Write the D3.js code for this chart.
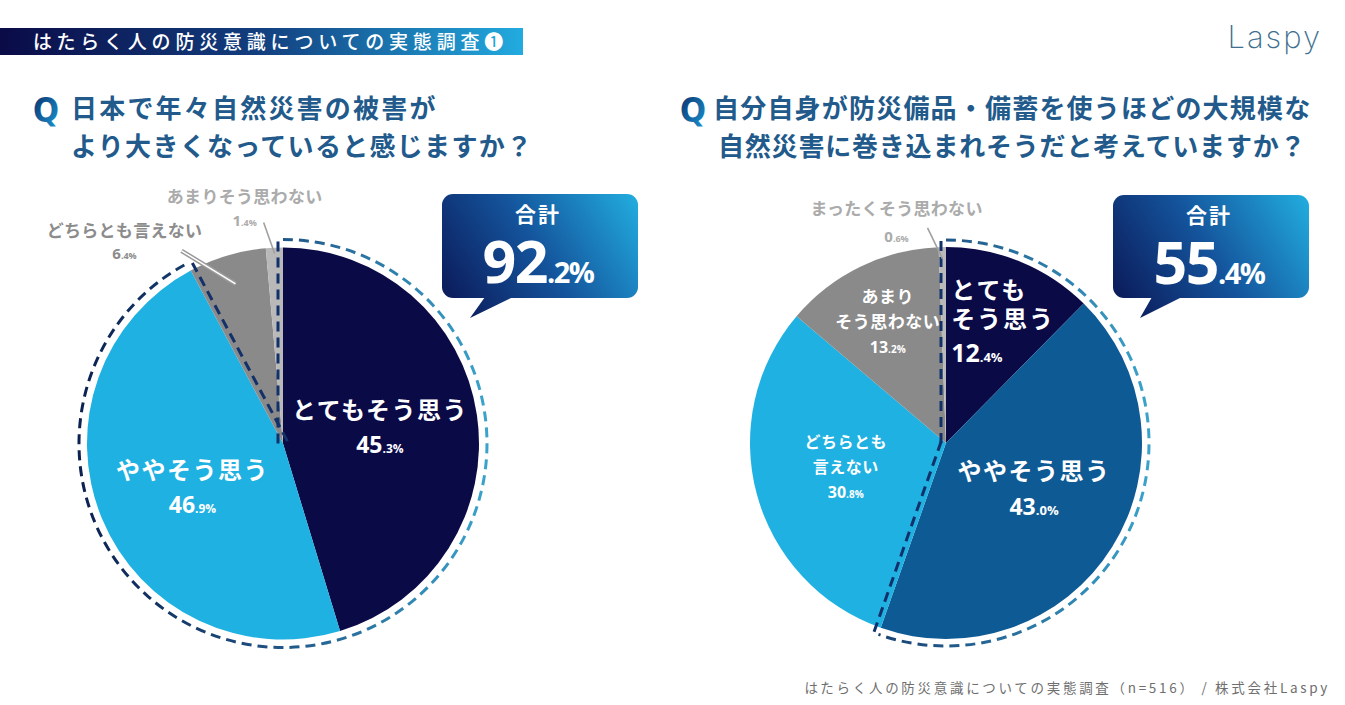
<!DOCTYPE html>
<html>
<head>
<meta charset="utf-8">
<script src="https://cdnjs.cloudflare.com/ajax/libs/d3/7.8.5/d3.min.js"></script>
<style>
  body { margin: 0; background: #fff; }
  text { font-family: "Noto Sans CJK JP", sans-serif; }
  .num { font-family: "Open Sans", "Noto Sans CJK JP", sans-serif; font-weight: 700; }
</style>
</head>
<body>
<script>
// ---- data ----
var headerText = "はたらく人の防災意識についての実態調査❶";
var footerText = "はたらく人の防災意識についての実態調査（n=516） / 株式会社Laspy";

var q1Title = ["日本で年々自然災害の被害が", "より大きくなっていると感じますか？"];
var q1Labels = ["とてもそう思う", "ややそう思う", "どちらとも言えない", "あまりそう思わない"];
var q1Values = [45.3, 46.9, 6.4, 1.4];

var q2Title = ["自分自身が防災備品・備蓄を使うほどの大規模な", "自然災害に巻き込まれそうだと考えていますか？"];
var q2Labels = ["とても\nそう思う", "ややそう思う", "どちらとも\n言えない", "あまり\nそう思わない", "まったくそう思わない"];
var q2Values = [12.4, 43.0, 30.8, 13.2, 0.6];

var totalLabel = "合計";

// ---- styles / layout ----
var q1Colors = ["#0a0a47", "#1fb1e1", "#8a8a8a", "#b9b9b9"];
var q2Colors = ["#0a0a47", "#0e5a95", "#1fb1e1", "#8a8a8a", "#b9b9b9"];

var width = 1345, height = 705;

var svg = d3.select("body").append("svg")
    .attr("width", width)
    .attr("height", height);

var defs = svg.append("defs");

function linGrad(id, x1, y1, x2, y2, stops, user) {
  var g = defs.append("linearGradient").attr("id", id)
    .attr("x1", x1).attr("y1", y1).attr("x2", x2).attr("y2", y2);
  if (user) g.attr("gradientUnits", "userSpaceOnUse");
  stops.forEach(function(s) {
    g.append("stop").attr("offset", s[0]).attr("stop-color", s[1]);
  });
}

// header banner
linGrad("bannerGrad", "0", "0", "1", "0", [[0, "#0a0b47"], [0.5, "#133f7f"], [1, "#22abdf"]]);
svg.append("rect")
  .attr("x", 0).attr("y", 28).attr("width", 523).attr("height", 27)
  .attr("fill", "url(#bannerGrad)");
svg.append("text")
  .attr("x", 33).attr("y", 48.5)
  .attr("fill", "#fff")
  .attr("font-size", 19)
  .attr("font-weight", 500)
  .attr("letter-spacing", 4.8)
  .text(headerText);

// logo
svg.append("text")
  .attr("x", 1322).attr("y", 48)
  .attr("text-anchor", "end")
  .attr("fill", "#3e6f8f")
  .attr("font-size", 31)
  .attr("font-weight", 200)
  .attr("letter-spacing", 2)
  .style("font-family", "Inter, Lato, sans-serif")
  .text("Laspy");

// footer
svg.append("text")
  .attr("x", 1330).attr("y", 693)
  .attr("text-anchor", "end")
  .attr("fill", "#6f6f6f")
  .attr("font-size", 13.5)
  .attr("letter-spacing", 2.7)
  .text(footerText);

linGrad("qGrad", "0", "0", "1", "1", [[0, "#0b2a66"], [1, "#1a9ad6"]]);

function pctText(g, v, x, y, big, small, color, anchor) {
  var s = v.toFixed(1).split(".");
  var t = g.append("text")
    .attr("class", "num")
    .attr("x", x).attr("y", y)
    .attr("text-anchor", anchor || "middle")
    .attr("fill", color);
  t.append("tspan").attr("font-size", big).text(s[0]);
  t.append("tspan").attr("font-size", small).text("." + s[1] + "%");
  return t;
}

var charts = [
  {
    id: "c1", title: q1Title, labels: q1Labels, values: q1Values, colors: q1Colors,
    agree: 2, cx: 283, cy: 443.5, r: 196, ring: 204,
    titleX: [71, 71], qX: 33, titleSpacing: [2.2, 1.3],
    box: { x: 442, y: 194, w: 196, h: 104, tail: [[485, 297], [513, 297], [470, 318]] },
    inside: [
      { k: 0.5, dy: 0, name: 24, pct: 23, small: 12, gap: 34, pgap: 34, ls: 1.5 },
      { k: 0.5, dy: 8, name: 24, pct: 23, small: 12, gap: 34, pgap: 34, ls: 1.5 }
    ],
    outside: [
      null, null,
      { k: 0.85, ldx: -54, ldy: -33, tdx: -57, tdy: -20, pdy: 2, color: "#8c8c8c", dbl: true },
      { k: 0.97, ldx: -11, ldy: -31, tdx: -19, tdy: -26, pdy: -3, color: "#ababab", dbl: false }
    ]
  },
  {
    id: "c2", title: q2Title, labels: q2Labels, values: q2Values, colors: q2Colors,
    agree: 2, cx: 946, cy: 443, r: 196, ring: 203,
    titleX: [713, 718], qX: 680, titleSpacing: [1.2, 0.8],
    box: { x: 1113, y: 195, w: 196, h: 103, tail: [[1152, 297], [1182, 297], [1140, 318]] },
    inside: [
      { k: 0.66, dy: 0, name: 24, pct: 25, small: 13, gap: 29, pgap: 34, ls: 2, anchor: "start", dx: -44 },
      { k: 0.53, dy: -8, name: 24, pct: 23, small: 13, gap: 35, pgap: 35, ls: 1.5 },
      { k: 0.53, dy: -2, name: 16, pct: 16, small: 10, gap: 25, pgap: 25, ls: 0.5 },
      { k: 0.68, dy: 0, name: 17, pct: 16, small: 10, gap: 25, pgap: 25, ls: 0.5 }
    ],
    outside: [
      null, null, null, null,
      { k: 0.94, ldx: -15, ldy: -31, tdx: -31, tdy: -19, pdy: 8, color: "#ababab", dbl: false }
    ]
  }
];

charts.forEach(function(c) {
  var g = svg.append("g");

  // question title
  g.append("text")
    .attr("x", c.qX).attr("y", 122)
    .attr("fill", "url(#qGrad)")
    .attr("font-size", 34)
    .attr("font-weight", 900)
    .style("font-family", "'DejaVu Sans Condensed', 'Open Sans', sans-serif")
    .text("Q");
  c.title.forEach(function(line, i) {
    g.append("text")
      .attr("x", c.titleX[i]).attr("y", 118 + i * 38)
      .attr("fill", "#215a8b")
      .attr("font-size", 26)
      .attr("font-weight", 700)
      .attr("letter-spacing", c.titleSpacing[i])
      .text(line);
  });

  // pie
  var pie = d3.pie().sort(null).value(function(d) { return d; });
  var arcs = pie(c.values);
  var arc = d3.arc().innerRadius(0).outerRadius(c.r);

  var pg = g.append("g").attr("transform", "translate(" + c.cx + "," + c.cy + ")");
  pg.selectAll("path.slice")
    .data(arcs)
    .join("path")
    .attr("class", "slice")
    .attr("d", arc)
    .attr("fill", function(d, i) { return c.colors[i]; });

  // dashed outline around the "agree" group
  var agreeTotal = d3.sum(c.values.slice(0, c.agree));
  var a0 = arcs[0].startAngle, a1 = arcs[c.agree - 1].endAngle;
  linGrad(c.id + "ring", -c.ring, 0, c.ring, 0,
    [[0, "#0b2150"], [0.45, "#1d4f80"], [1, "#3ba3cb"]], true);
  var ringArc = d3.path();
  ringArc.arc(0, 0, c.ring, a0 - Math.PI / 2, a1 - Math.PI / 2, false);
  pg.append("path")
    .attr("d", ringArc.toString())
    .attr("fill", "none")
    .attr("stroke", "url(#" + c.id + "ring)")
    .attr("stroke-width", 3)
    .attr("stroke-dasharray", "10,6");
  var off = 5;
  // start radial (offset counter-clockwise), end radial (offset clockwise)
  [[a0, -1], [a1, 1]].forEach(function(p) {
    var a = p[0], s = p[1];
    var nx = s * Math.cos(a) * off, ny = s * Math.sin(a) * off;
    var dx = Math.sin(a), dy = -Math.cos(a);
    pg.append("line")
      .attr("x1", nx).attr("y1", ny)
      .attr("x2", nx + dx * (c.ring - 1)).attr("y2", ny + dy * (c.ring - 1))
      .attr("stroke", "#12306a")
      .attr("stroke-width", 3)
      .attr("stroke-dasharray", "10,6");
  });

  // inside labels
  arcs.forEach(function(d, i) {
    var L = c.inside[i];
    if (!L) return;
    var pos = d3.arc().innerRadius(c.r * L.k).outerRadius(c.r * L.k).centroid(d);
    var lines = c.labels[i].split("\n");
    var n = lines.length;
    var blockH = (n - 1) * L.gap + L.pgap;
    var x = pos[0] + (L.dx || 0);
    var top = pos[1] + L.dy - blockH / 2;
    lines.forEach(function(line, j) {
      pg.append("text")
        .attr("x", x).attr("y", top + j * L.gap + L.name * 0.3)
        .attr("text-anchor", L.anchor || "middle")
        .attr("fill", "#fff")
        .attr("font-size", L.name)
        .attr("font-weight", 700)
        .attr("letter-spacing", L.ls)
        .text(line);
    });
    pctText(pg, d.value, x, top + (n - 1) * L.gap + L.pgap + L.pct * 0.3, L.pct, L.small, "#fff", L.anchor);
  });

  // outside labels with leader lines
  arcs.forEach(function(d, i) {
    var O = c.outside[i];
    if (!O) return;
    var p = d3.arc().innerRadius(c.r * O.k).outerRadius(c.r * O.k).centroid(d);
    var q = [p[0] + O.ldx, p[1] + O.ldy];
    if (O.dbl) {
      pg.append("line").attr("x1", p[0]).attr("y1", p[1]).attr("x2", q[0]).attr("y2", q[1])
        .attr("stroke", "#9a9a9a").attr("stroke-width", 4.5);
      pg.append("line").attr("x1", p[0]).attr("y1", p[1]).attr("x2", q[0]).attr("y2", q[1])
        .attr("stroke", "#fff").attr("stroke-width", 1.5);
    } else {
      pg.append("line").attr("x1", p[0]).attr("y1", p[1]).attr("x2", q[0]).attr("y2", q[1])
        .attr("stroke", "#a0a0a0").attr("stroke-width", 1.6);
    }
    pg.append("text")
      .attr("x", q[0] + O.tdx).attr("y", q[1] + O.tdy + 6)
      .attr("text-anchor", "middle")
      .attr("fill", O.color)
      .attr("font-size", 17)
      .attr("font-weight", 700)
      .attr("letter-spacing", 0.3)
      .text(c.labels[i]);
    pctText(pg, d.value, q[0] + O.tdx, q[1] + O.pdy + 6, 15, 9, O.color);
  });

  // total callout
  var b = c.box;
  linGrad(c.id + "box", b.x, b.y + b.h + 20, b.x + b.w, b.y,
    [[0, "#0a1452"], [0.5, "#14539b"], [1, "#22aee0"]], true);
  g.append("rect")
    .attr("x", b.x).attr("y", b.y).attr("width", b.w).attr("height", b.h)
    .attr("rx", 11)
    .attr("fill", "url(#" + c.id + "box)");
  g.append("path")
    .attr("d", d3.line()(b.tail) + "Z")
    .attr("fill", "url(#" + c.id + "box)");
  g.append("text")
    .attr("x", b.x + b.w / 2 - 2).attr("y", b.y + 28)
    .attr("text-anchor", "middle")
    .attr("fill", "#fff")
    .attr("font-size", 21)
    .attr("font-weight", 700)
    .attr("letter-spacing", 2)
    .text(totalLabel);
  pctText(g, agreeTotal, b.x + b.w / 2 - 2, b.y + 89, 59, 29, "#fff")
    .attr("letter-spacing", -1.5);
});
</script>
</body>
</html>
